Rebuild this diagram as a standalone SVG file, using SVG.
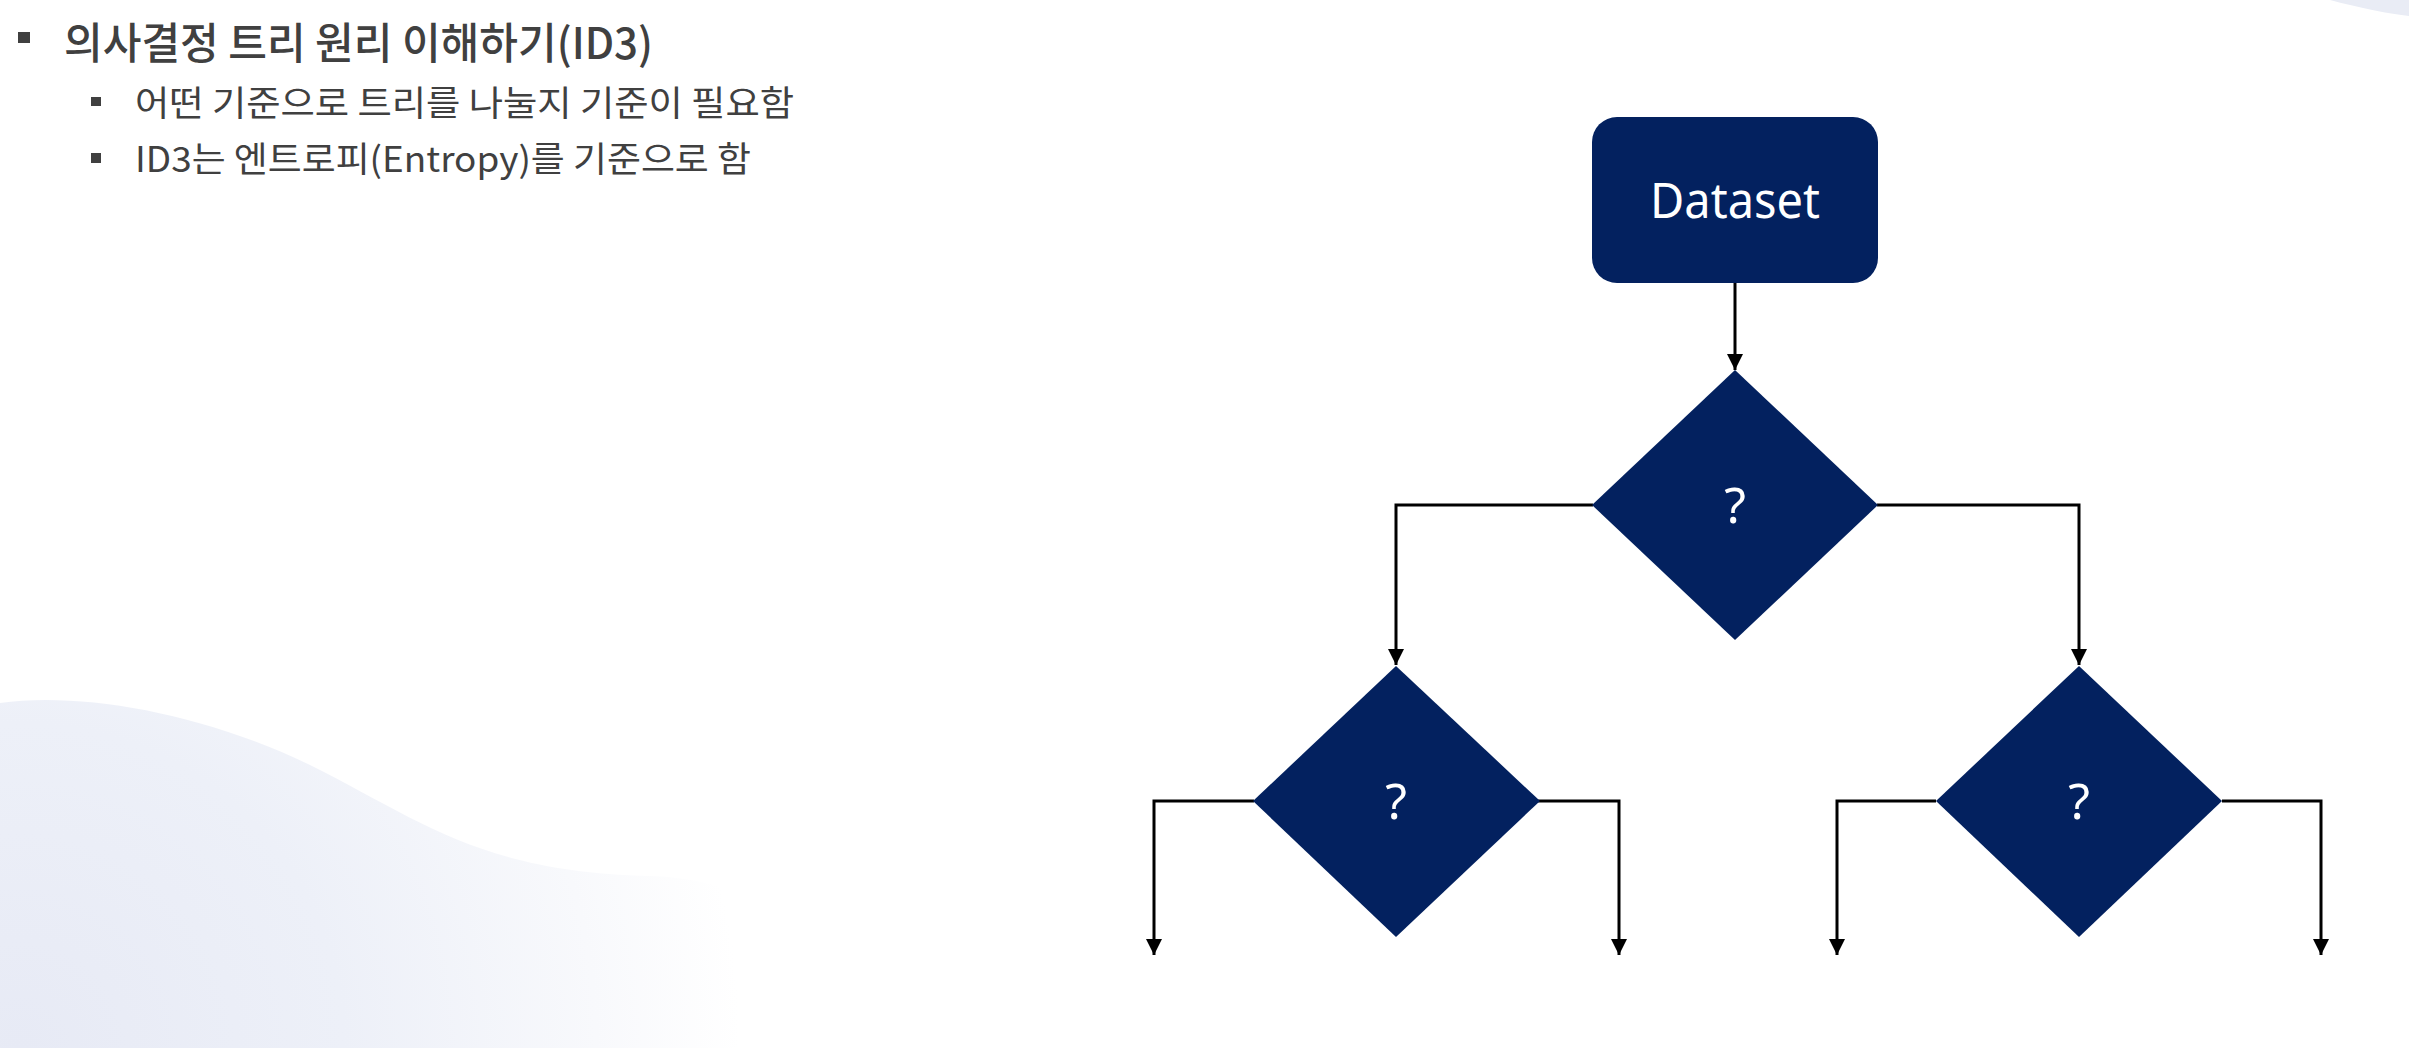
<svg xmlns="http://www.w3.org/2000/svg" width="2409" height="1048" viewBox="0 0 2409 1048">
<defs>
<radialGradient id="bgL" cx="20" cy="1048" r="720" gradientUnits="userSpaceOnUse">
<stop offset="0" stop-color="#e7eaf5"/>
<stop offset="0.45" stop-color="#edf0f8"/>
<stop offset="0.8" stop-color="#f8f9fc"/>
<stop offset="1" stop-color="#ffffff"/>
</radialGradient>
<marker id="arr" viewBox="0 0 16 16" refX="16" refY="8" markerWidth="16" markerHeight="16" markerUnits="userSpaceOnUse" orient="auto">
<path d="M0,0 L16,8 L0,16 Z" fill="#000"/>
</marker>
<style>
.txt{font-family:"Noto Sans CJK KR","Noto Sans",sans-serif;fill:#404040}
.bul{fill:#404040}
.node{fill:#03215f}
.lbl{font-family:"Noto Sans","Open Sans",sans-serif;fill:#fff;text-anchor:middle}
.con{fill:none;stroke:#000;stroke-width:3;marker-end:url(#arr)}
</style>
</defs>
<rect width="2409" height="1048" fill="#fff"/>
<path d="M0,703 C80,692 200,712 310,765 C420,820 480,872 650,876 C800,880 900,1000 950,1048 L0,1048 Z" fill="url(#bgL)"/>
<path d="M2330,0 C2360,8 2390,14 2409,16 L2409,0 Z" fill="#e9ecf5"/>
<g id="text">
<rect class="bul" x="18" y="32" width="12" height="11"/>
<text class="txt" x="64" y="59" font-size="43" font-weight="500" textLength="589" lengthAdjust="spacingAndGlyphs">의사결정 트리 원리 이해하기(ID3)</text>
<rect class="bul" x="91" y="97" width="10" height="9"/>
<text class="txt" x="135" y="116" font-size="35" textLength="659" lengthAdjust="spacingAndGlyphs">어떤 기준으로 트리를 나눌지 기준이 필요함</text>
<rect class="bul" x="91" y="153" width="10" height="10"/>
<text class="txt" x="135" y="172" font-size="35" textLength="616" lengthAdjust="spacingAndGlyphs">ID3는 엔트로피(Entropy)를 기준으로 함</text>
</g>
<g id="connectors">
<path class="con" d="M1735,283 V370"/>
<path class="con" d="M1593,505 H1396 V665"/>
<path class="con" d="M1877,505 H2079 V665"/>
<path class="con" d="M1254,801 H1154 V955"/>
<path class="con" d="M1522,801 H1619 V955"/>
<path class="con" d="M1936,801 H1837 V955"/>
<path class="con" d="M2222,801 H2321 V955"/>
</g>
<g id="dataset">
<rect class="node" x="1592" y="117" width="286" height="166" rx="25"/>
<text class="lbl" x="1735" y="218" font-size="49" textLength="170" lengthAdjust="spacingAndGlyphs">Dataset</text>
</g>
<g id="decision1">
<polygon class="node" points="1735,370 1878,505 1735,640 1592,505"/>
<text class="lbl" x="1735" y="523" font-size="50">?</text>
</g>
<g id="decision2">
<polygon class="node" points="1396,666 1540,801 1396,937 1253,801"/>
<text class="lbl" x="1396" y="819" font-size="50">?</text>
</g>
<g id="decision3">
<polygon class="node" points="2079,666 2222,801 2079,937 1936,801"/>
<text class="lbl" x="2079" y="819" font-size="50">?</text>
</g>
</svg>
